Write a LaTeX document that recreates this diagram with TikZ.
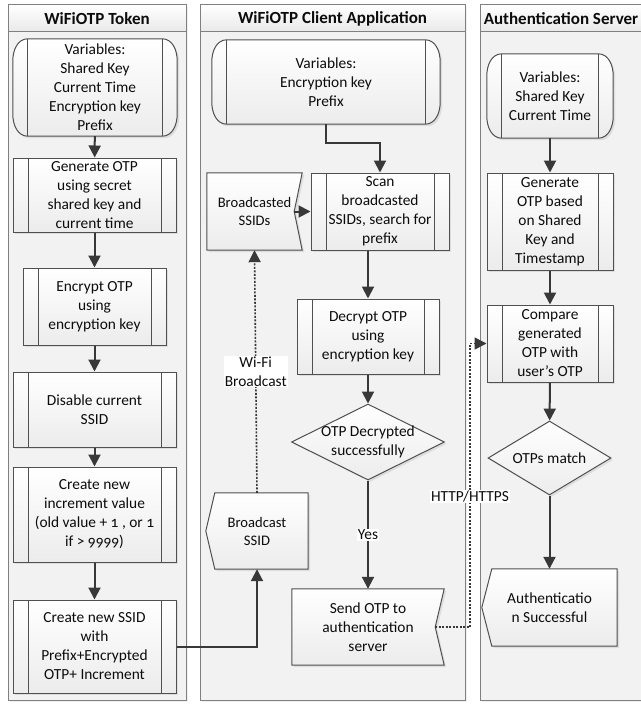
\documentclass[tikz,border=0pt]{standalone}
\usepackage{fontspec}
\setmainfont{Carlito}
\usetikzlibrary{arrows.meta,shapes.geometric,shadows,calc}

\pgfdeclarelayer{lanes}
\pgfdeclarelayer{shapes}
\pgfsetlayers{lanes,shapes,main}

\definecolor{lanefill}{HTML}{F2F2F2}
\definecolor{laneline}{HTML}{808080}
\definecolor{edge}{HTML}{505050}
\definecolor{wire}{HTML}{383838}
\definecolor{ink}{HTML}{0C0C0C}

\newcommand{\osf}[1]{{\addfontfeatures{Numbers=OldStyle}#1}}

\tikzset{
  x=1pt, y=-1pt,
  every node/.style={font=\fontsize{15.4}{19}\selectfont, text=ink, align=center},
  smalltext/.style={font=\fontsize{14.6}{18}\selectfont},
  shaded/.style={top color=white, bottom color=gray!15, draw=edge, line width=1pt,
    drop shadow={shadow xshift=2pt, shadow yshift=-2pt, opacity=0.18}},
  proc/.style={shaded, rectangle, inner sep=0pt,
    path picture={\draw[edge, line width=1pt]
      ([xshift=15pt]path picture bounding box.north west) -- ([xshift=15pt]path picture bounding box.south west)
      ([xshift=-15pt]path picture bounding box.north east) -- ([xshift=-15pt]path picture bounding box.south east);}},
  decision/.style={shaded, diamond, inner sep=0pt},
  outline/.style={rectangle, inner sep=0pt, draw=none},
  lane/.style={fill=lanefill, draw=laneline, line width=1pt},
  header/.style={top color=white, bottom color=gray!18, draw=laneline, line width=1pt,
    inner sep=0pt, minimum height=27pt, font=\bfseries\fontsize{17}{20}\selectfont},
  arr/.style={draw=wire, line width=2pt, -{Triangle[length=12pt, width=12pt]}},
  wireless/.style={arr, line width=1.6pt, dash pattern=on 2pt off 1.5pt},
  tag/.style={fill=white, inner sep=1pt},
}

% stored-data outline: bulging sides with inner rules, drawn around a named node
\newcommand{\storedoutline}[1]{%
  \path[shaded] ([xshift=15pt]#1.north west) to[out=180,in=90] ([yshift=-22pt]#1.north west)
    -- ([yshift=22pt]#1.south west) to[out=-90,in=180] ([xshift=15pt]#1.south west)
    -- ([xshift=-15pt]#1.south east) to[out=0,in=-90] ([yshift=22pt]#1.south east)
    -- ([yshift=-22pt]#1.north east) to[out=90,in=0] ([xshift=-15pt]#1.north east) -- cycle;
  \draw[edge, line width=1pt]
    ([xshift=15pt]#1.north west) -- ([xshift=15pt]#1.south west)
    ([xshift=-15pt]#1.north east) -- ([xshift=-15pt]#1.south east);}

\begin{document}
\begin{tikzpicture}
\useasboundingbox (0,0) rectangle (640,706);

% ---------- swimlanes ----------
\begin{pgfonlayer}{lanes}
  \path[lane, drop shadow={shadow xshift=2pt, shadow yshift=-2pt, opacity=0.12}] (8,5) rectangle (186,700);
  \path[lane, drop shadow={shadow xshift=2pt, shadow yshift=-2pt, opacity=0.12}] (200,5) rectangle (465,700);
  \path[lane, drop shadow={shadow xshift=2pt, shadow yshift=-2pt, opacity=0.12}] (480,5) rectangle (642,700);
\end{pgfonlayer}
\node[header, minimum width=178pt] (h1) at (97,18.5) {WiFiOTP Token};
\node[header, minimum width=265pt] (h2) at (332.5,18.5) {WiFiOTP Client Application};
\node[header, minimum width=162pt] (h3) at (561,18.5) {Authentication Server};

% ---------- token lane ----------
\node[outline, minimum width=164pt, minimum height=97pt] (var1) at (95,87.5)
  {Variables:\\Shared Key\\Current Time\\Encryption key\\Prefix};
\node[proc, minimum width=163pt, minimum height=74pt] (gen1) at (94.5,195)
  {Generate OTP\\using secret\\shared key and\\current time};
\node[proc, minimum width=143pt, minimum height=77pt] (enc1) at (94.5,306.5)
  {Encrypt OTP\\using\\encryption key};
\node[proc, minimum width=163pt, minimum height=75pt] (dis1) at (94.5,409.5)
  {Disable current\\SSID};
\node[proc, minimum width=163pt, minimum height=95pt] (inc1) at (94.5,514.5)
  {Create new\\increment value\\(old value + \osf{1} , or \osf{1}\\if > \osf{9999})};
\node[proc, minimum width=163pt, minimum height=93pt] (ssid1) at (94.5,646.5)
  {Create new SSID\\with\\Prefix+Encrypted\\OTP+ Increment};

% ---------- client lane ----------
\node[outline, minimum width=228pt, minimum height=84pt] (var2) at (326,82)
  {Variables:\\Encryption key\\Prefix};
\node[outline, smalltext, minimum width=95pt, minimum height=77pt] (bssids) at (254.5,211.5)
  {Broadcasted\\SSIDs};
\node[proc, minimum width=138pt, minimum height=77pt] (scan) at (380,211.5)
  {Scan\\broadcasted\\SSIDs, search for\\prefix};
\node[proc, minimum width=142pt, minimum height=75pt] (dec) at (368,336.5)
  {Decrypt OTP\\using\\encryption key};
\node[decision, minimum width=153pt, minimum height=76pt,
  label={[align=center]center:OTP Decrypted\\successfully}] (dia1) at (368,442) {};
\node[outline, smalltext, minimum width=102pt, minimum height=76pt] (bcast) at (257,531)
  {Broadcast\\SSID};
\node[outline, minimum width=152pt, minimum height=76pt] (send) at (368,627)
  {Send OTP to\\authentication\\server};

% ---------- server lane ----------
\node[outline, minimum width=126pt, minimum height=84pt] (var3) at (550,96)
  {Variables:\\Shared Key\\Current Time};
\node[proc, minimum width=126pt, minimum height=97pt] (gen3) at (550,221.5)
  {Generate\\OTP based\\on Shared\\Key and\\Timestamp};
\node[proc, minimum width=126pt, minimum height=77pt] (cmp3) at (550,343.5)
  {Compare\\generated\\OTP with\\user’s OTP};
\node[decision, minimum width=123pt, minimum height=74pt,
  label={center:OTPs match}] (dia3) at (549.5,458) {};
\node[outline, minimum width=135pt, minimum height=77pt] (auth) at (549.5,607.5)
  {Authenticatio\\n Successful};

% ---------- outlines of the stored-data, card and display shapes ----------
\begin{pgfonlayer}{shapes}
  \storedoutline{var1}
  \storedoutline{var2}
  \storedoutline{var3}
  \path[shaded] (bssids.north west) -- (bssids.north east) -- ([xshift=-8pt]bssids.east)
    -- (bssids.south east) -- (bssids.south west) -- cycle;
  \path[shaded] ([xshift=9pt]bcast.north west) -- (bcast.north east) -- (bcast.south east)
    -- ([xshift=9pt]bcast.south west) -- (bcast.west) -- cycle;
  \path[shaded] (send.north west) -- (send.north east) -- ([xshift=-9pt]send.east)
    -- (send.south east) -- (send.south west) -- cycle;
  \path[shaded] ([xshift=10pt]auth.north west) -- (auth.north east) -- (auth.south east)
    -- ([xshift=10pt]auth.south west) -- (auth.west) -- cycle;
\end{pgfonlayer}
\coordinate (bnotch) at ([xshift=-8pt]bssids.east);
\coordinate (snotch) at ([xshift=-9pt]send.east);
\coordinate (hop) at (470,627);

% ---------- connectors ----------
\draw[arr] (var1) -- (gen1);
\draw[arr] (gen1) -- (enc1);
\draw[arr] (enc1) -- (dis1);
\draw[arr] (dis1) -- (inc1);
\draw[arr] (inc1) -- (ssid1);
\draw[arr] (ssid1.east) -| (bcast.south);
\draw[wireless] (bcast.north) -- node[tag]{Wi-Fi\\Broadcast} (bssids.south);
\draw[arr] (bnotch) -- (scan.west);
\draw[arr] (var2.south) -- ++(0,19) -| (scan.north);
\draw[arr] (scan.south -| dec.north) -- (dec.north);
\draw[arr] (dec) -- (dia1);
\draw[arr] (dia1.south) -- node[tag]{Yes} (send.north);
\draw[wireless] (snotch) -- (hop) -- node[tag, pos=0.46]{HTTP/HTTPS} (hop |- cmp3.west) -- (cmp3.west);
\draw[arr] (var3) -- (gen3);
\draw[arr] (gen3) -- (cmp3);
\draw[arr] (cmp3) -- (dia3);
\draw[arr] (dia3.south) -- (auth.north);
\end{tikzpicture}
\end{document}
